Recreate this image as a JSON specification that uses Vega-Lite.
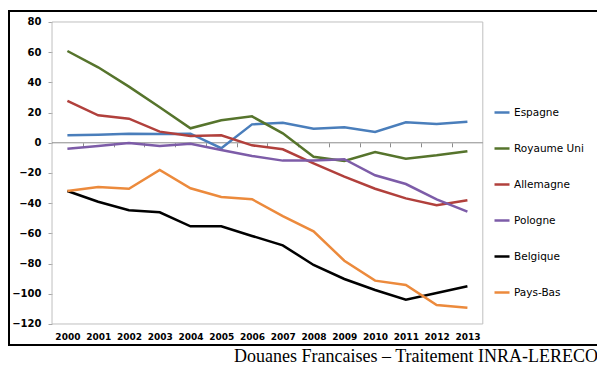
{
  "$schema": "https://vega.github.io/schema/vega-lite/v6.json",
  "width": 591,
  "height": 334,
  "autosize": {"type": "none"},
  "padding": {"left": 9, "top": 11, "right": 0, "bottom": 20},
  "background": "white",
  "title": {
    "text": "Douanes Francaises – Traitement INRA-LERECO",
    "orient": "bottom",
    "anchor": "end",
    "frame": "group",
    "font": "Liberation Serif",
    "fontSize": 18,
    "fontWeight": "normal",
    "color": "#000000",
    "offset": 3,
    "dx": -2
  },
  "config": {
    "view": {"stroke": "#000000", "strokeWidth": 2},
    "axis": {"grid": false, "domain": false, "title": null},
    "axisY": {
      "labelOverlap": false,
      "labelFlush": false,
      "labelBound": false,
      "ticks": true,
      "tickSize": 4,
      "tickColor": "#A6A6A6",
      "labelPadding": 7,
      "labelFont": "DejaVu Sans",
      "labelFontWeight": "bold",
      "labelFontSize": 10,
      "labelColor": "#000000"
    }
  },
  "data": {
    "values": [
      {"year": 2000, "country": "Espagne", "value": 5.0},
      {"year": 2001, "country": "Espagne", "value": 5.3},
      {"year": 2002, "country": "Espagne", "value": 6.0},
      {"year": 2003, "country": "Espagne", "value": 5.8},
      {"year": 2004, "country": "Espagne", "value": 6.0},
      {"year": 2005, "country": "Espagne", "value": -3.6},
      {"year": 2006, "country": "Espagne", "value": 12.2},
      {"year": 2007, "country": "Espagne", "value": 13.3},
      {"year": 2008, "country": "Espagne", "value": 9.3},
      {"year": 2009, "country": "Espagne", "value": 10.3},
      {"year": 2010, "country": "Espagne", "value": 7.2},
      {"year": 2011, "country": "Espagne", "value": 13.6},
      {"year": 2012, "country": "Espagne", "value": 12.4},
      {"year": 2013, "country": "Espagne", "value": 14.0},
      {"year": 2000, "country": "Royaume Uni", "value": 60.8},
      {"year": 2001, "country": "Royaume Uni", "value": 50.0},
      {"year": 2002, "country": "Royaume Uni", "value": 37.2},
      {"year": 2003, "country": "Royaume Uni", "value": 23.5},
      {"year": 2004, "country": "Royaume Uni", "value": 9.6},
      {"year": 2005, "country": "Royaume Uni", "value": 14.9},
      {"year": 2006, "country": "Royaume Uni", "value": 17.5},
      {"year": 2007, "country": "Royaume Uni", "value": 6.3},
      {"year": 2008, "country": "Royaume Uni", "value": -9.2},
      {"year": 2009, "country": "Royaume Uni", "value": -12.0},
      {"year": 2010, "country": "Royaume Uni", "value": -6.1},
      {"year": 2011, "country": "Royaume Uni", "value": -10.5},
      {"year": 2012, "country": "Royaume Uni", "value": -8.3},
      {"year": 2013, "country": "Royaume Uni", "value": -5.6},
      {"year": 2000, "country": "Allemagne", "value": 27.7},
      {"year": 2001, "country": "Allemagne", "value": 18.2},
      {"year": 2002, "country": "Allemagne", "value": 16.0},
      {"year": 2003, "country": "Allemagne", "value": 7.4},
      {"year": 2004, "country": "Allemagne", "value": 4.5},
      {"year": 2005, "country": "Allemagne", "value": 5.0},
      {"year": 2006, "country": "Allemagne", "value": -1.7},
      {"year": 2007, "country": "Allemagne", "value": -4.3},
      {"year": 2008, "country": "Allemagne", "value": -13.6},
      {"year": 2009, "country": "Allemagne", "value": -22.4},
      {"year": 2010, "country": "Allemagne", "value": -30.4},
      {"year": 2011, "country": "Allemagne", "value": -36.8},
      {"year": 2012, "country": "Allemagne", "value": -41.4},
      {"year": 2013, "country": "Allemagne", "value": -38.1},
      {"year": 2000, "country": "Pologne", "value": -3.9},
      {"year": 2001, "country": "Pologne", "value": -2.1},
      {"year": 2002, "country": "Pologne", "value": -0.1},
      {"year": 2003, "country": "Pologne", "value": -2.1},
      {"year": 2004, "country": "Pologne", "value": -0.6},
      {"year": 2005, "country": "Pologne", "value": -4.8},
      {"year": 2006, "country": "Pologne", "value": -8.7},
      {"year": 2007, "country": "Pologne", "value": -11.8},
      {"year": 2008, "country": "Pologne", "value": -11.8},
      {"year": 2009, "country": "Pologne", "value": -10.9},
      {"year": 2010, "country": "Pologne", "value": -21.5},
      {"year": 2011, "country": "Pologne", "value": -27.3},
      {"year": 2012, "country": "Pologne", "value": -37.5},
      {"year": 2013, "country": "Pologne", "value": -45.6},
      {"year": 2000, "country": "Belgique", "value": -31.9},
      {"year": 2001, "country": "Belgique", "value": -39.0},
      {"year": 2002, "country": "Belgique", "value": -44.7},
      {"year": 2003, "country": "Belgique", "value": -46.0},
      {"year": 2004, "country": "Belgique", "value": -55.3},
      {"year": 2005, "country": "Belgique", "value": -55.3},
      {"year": 2006, "country": "Belgique", "value": -61.7},
      {"year": 2007, "country": "Belgique", "value": -67.9},
      {"year": 2008, "country": "Belgique", "value": -80.9},
      {"year": 2009, "country": "Belgique", "value": -90.2},
      {"year": 2010, "country": "Belgique", "value": -97.5},
      {"year": 2011, "country": "Belgique", "value": -103.9},
      {"year": 2012, "country": "Belgique", "value": -99.5},
      {"year": 2013, "country": "Belgique", "value": -95.0},
      {"year": 2000, "country": "Pays-Bas", "value": -31.9},
      {"year": 2001, "country": "Pays-Bas", "value": -29.3},
      {"year": 2002, "country": "Pays-Bas", "value": -30.4},
      {"year": 2003, "country": "Pays-Bas", "value": -18.0},
      {"year": 2004, "country": "Pays-Bas", "value": -30.1},
      {"year": 2005, "country": "Pays-Bas", "value": -35.9},
      {"year": 2006, "country": "Pays-Bas", "value": -37.4},
      {"year": 2007, "country": "Pays-Bas", "value": -48.5},
      {"year": 2008, "country": "Pays-Bas", "value": -58.6},
      {"year": 2009, "country": "Pays-Bas", "value": -78.1},
      {"year": 2010, "country": "Pays-Bas", "value": -91.3},
      {"year": 2011, "country": "Pays-Bas", "value": -94.2},
      {"year": 2012, "country": "Pays-Bas", "value": -107.4},
      {"year": 2013, "country": "Pays-Bas", "value": -109.2}
    ]
  },
  "layer": [
    {
      "data": {"values": [{}]},
      "mark": {"type": "rect", "fillOpacity": 0, "stroke": "#BFBFBF", "strokeWidth": 1},
      "encoding": {
        "x": {"datum": 1999.5, "type": "quantitative", "scale": {"domain": [1998.102, 2017.309], "nice": false, "zero": false}, "axis": null},
        "x2": {"datum": 2013.5},
        "y": {
          "datum": -120,
          "type": "quantitative",
          "scale": {"domain": [-133.91, 87.28], "nice": false, "zero": false},
          "axis": {"orient": "left", "offset": -43, "values": [-120, -100, -80, -60, -40, -20, 0, 20, 40, 60, 80], "labelOverlap": false}
        },
        "y2": {"datum": 80}
      }
    },
    {
      "data": {"values": [{}]},
      "mark": {"type": "rule", "color": "#8C8C8C", "strokeWidth": 1},
      "encoding": {
        "x": {
          "datum": 1999.5,
          "type": "quantitative",
          "scale": {"domain": [1998.102, 2017.309], "nice": false, "zero": false},
          "axis": {
            "orient": "bottom",
            "offset": -202.2,
            "values": [2000.5, 2001.5, 2002.5, 2003.5, 2004.5, 2005.5, 2006.5, 2007.5, 2008.5, 2009.5, 2010.5, 2011.5, 2012.5],
            "labels": false,
            "ticks": true,
            "tickSize": 4,
            "tickColor": "#8C8C8C",
            "domain": false
          }
        },
        "x2": {"datum": 2013.5},
        "y": {
          "datum": 0,
          "type": "quantitative",
          "axis": {"orient": "left", "offset": -43, "values": [-120, -100, -80, -60, -40, -20, 0, 20, 40, 60, 80], "labelOverlap": false}
        }
      }
    },
    {
      "mark": {"type": "line", "strokeWidth": 2.5},
      "encoding": {
        "x": {
          "field": "year",
          "type": "quantitative",
          "scale": {"domain": [1998.102, 2017.309], "nice": false, "zero": false},
          "axis": {
            "orient": "bottom",
            "offset": -13,
            "values": [2000, 2001, 2002, 2003, 2004, 2005, 2006, 2007, 2008, 2009, 2010, 2011, 2012, 2013],
            "format": "d",
            "ticks": false,
            "tickSize": 0,
            "labelPadding": 0,
            "labelFont": "DejaVu Sans",
            "labelFontWeight": "bold",
            "labelFontSize": 9,
            "labelColor": "#000000",
            "labelFlush": false,
            "labelOverlap": false
          }
        },
        "y": {
          "field": "value",
          "type": "quantitative",
          "scale": {"domain": [-133.91, 87.28], "nice": false, "zero": false},
          "axis": {"orient": "left", "offset": -43, "values": [-120, -100, -80, -60, -40, -20, 0, 20, 40, 60, 80], "labelOverlap": false}
        },
        "color": {
          "field": "country",
          "type": "nominal",
          "scale": {
            "domain": ["Espagne", "Royaume Uni", "Allemagne", "Pologne", "Belgique", "Pays-Bas"],
            "range": ["#4A7EBB", "#56742C", "#B1403C", "#7D5CA8", "#000000", "#EC8A3C"]
          },
          "legend": {
            "orient": "none",
            "legendX": 484,
            "legendY": 92.5,
            "title": null,
            "padding": 0,
            "symbolType": "stroke",
            "symbolSize": 225,
            "symbolStrokeWidth": 2.5,
            "rowPadding": 21,
            "labelOffset": 3,
            "labelFont": "DejaVu Sans",
            "labelFontSize": 10.5,
            "labelColor": "#000000"
          }
        }
      }
    }
  ],
  "resolve": {"axis": {"x": "independent"}}
}
